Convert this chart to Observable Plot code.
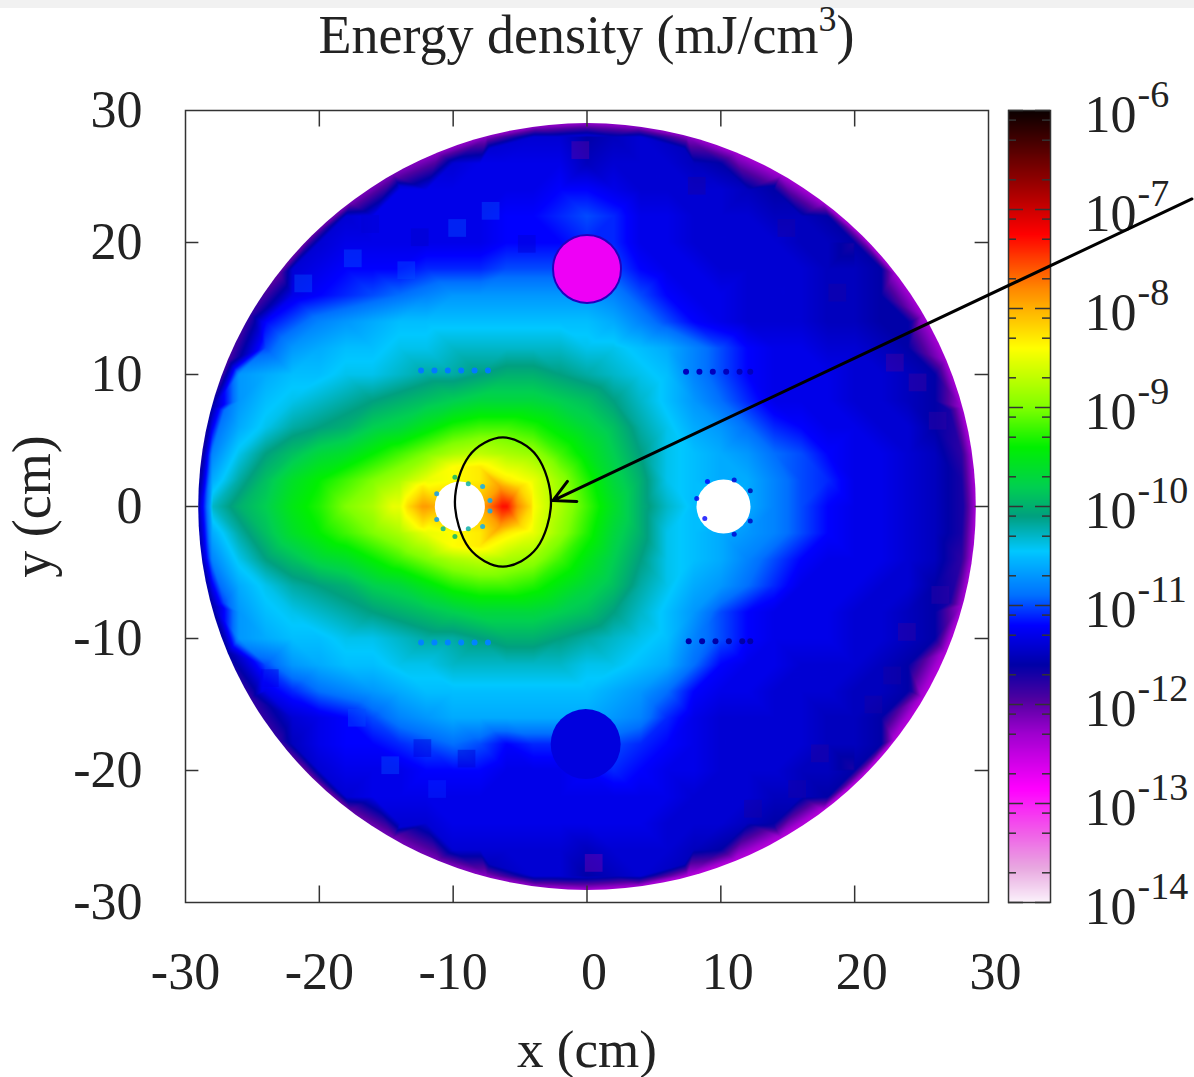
<!DOCTYPE html>
<html><head><meta charset="utf-8">
<script src="https://cdn.jsdelivr.net/npm/d3@7"></script>
<script src="https://cdn.jsdelivr.net/npm/@observablehq/plot@0.6"></script>
<style>
html,body{margin:0;padding:0;background:#fff}
#wrap{position:relative;width:1194px;height:1077px;overflow:hidden;font-family:"Liberation Serif",serif;color:#222}
#wrap svg{position:absolute;left:0;top:0;background:transparent}
#band{position:absolute;left:0;top:0;width:1194px;height:8px;background:#f1f1f1}
#title{position:absolute;left:0;width:1173px;top:5px;text-align:center;font-size:54px;line-height:60px}
#title sup{font-size:36px;line-height:0;vertical-align:baseline;position:relative;top:-22px}
</style></head><body>
<div id="wrap"><div id="band"></div><div id="title">Energy density (mJ/cm<sup>3</sup>)</div></div>
<script>
// Colour bar: exponent of energy density and the colour read at that height
const barExponents=[-14,-13.65,-13.3,-12.85,-12.3,-11.95,-11.6,-11.2,-10.9,-10.45,-10.1,-9.8,-9.4,-9,-8.4,-7.8,-7.25,-6.7,-6];
const barColors=["#fbf2fb","#e8a8e0","#f060e8","#ff00ff","#a000d0","#5000a0","#0000a8","#0000ff","#0070ff","#00c8ff","#00a080","#00d050","#00f000","#80ff00","#ffff00","#ff8800","#ff0000","#900000","#0a0000"];
const barLabels=[-6,-7,-8,-9,-10,-11,-12,-13,-14];
const xTicks=[-30,-20,-10,0,10,20,30];
const yTicks=[-30,-20,-10,0,10,20,30];

// Read values: -10*log10(energy density) on a 2 cm grid; each row is centred on x=0
const rowY=[28,26,24,22,20,18,16,14,12,10,8,6,4,2,0,-2,-4,-6,-8,-10,-12,-14,-16,-18,-20,-22,-24,-26,-28];
const rows=[
[114,114,116,115,114],
[114,113,113,113,113,115,114,114,114,115,116],
[113,113,113,113,113,113,112,112,113,114,114,114,114,115,116],
[114,113,113,113,113,113,112,112,111,110,111,113,113,114,114,114,115,115,116],
[114,113,113,113,113,113,113,112,112,112,111,111,113,113,114,114,114,114,115,115,116],
[114,113,112,112,112,111,111,111,110,110,110,110,110,112,113,113,114,114,114,114,115,115,116],
[113,112,111,110,109,108,107,107,107,107,107,107,108,110,112,113,113,114,114,114,115,115,116],
[112,110,108,107,106,105,105,105,105,105,105,105,105,106,108,110,112,113,114,114,114,115,115,116,116],
[110,107,106,105,105,104,104,103,103,103,103,103,104,104,105,106,108,110,112,113,113,114,114,115,116],
[107,106,105,105,104,104,103,102,102,101,100,100,101,102,103,104,105,108,110,112,113,113,113,114,114,115,116],
[107,105,104,103,102,101,100,99,98,97,97,97,98,99,101,103,105,107,109,111,113,113,113,114,114,115,116],
[106,104,102,101,100,98,97,95,93,92,92,93,95,97,99,102,104,106,107,109,111,112,113,113,114,114,116],
[108,104,101,99,97,96,94,92,90,88,87,88,89,92,95,98,101,104,105,106,107,109,110,112,113,113,114,115,118],
[106,102,99,96,94,92,90,88,85,84,83,83,85,89,93,97,100,104,105,106,106,108,110,111,113,113,114,115,117],
[103,100,98,95,93,90,88,85,79,80,80,73,84,88,92,96,100,103,105,105,106,108,110,112,113,113,114,115,117],
[106,102,99,96,94,92,90,88,85,84,83,83,85,89,93,97,100,104,105,106,107,108,110,112,113,113,114,115,117],
[108,104,101,99,97,96,94,92,90,88,87,88,89,92,95,98,101,104,105,106,108,110,112,113,113,113,114,115,118],
[106,104,102,101,100,98,97,95,93,92,92,93,95,97,99,102,104,106,107,109,111,113,113,113,114,114,116],
[107,105,104,103,102,101,100,99,98,97,97,97,98,99,101,103,105,107,110,112,113,113,113,114,114,115,116],
[107,106,105,105,104,104,103,102,102,101,100,100,101,102,103,104,105,108,110,112,113,113,113,114,114,115,116],
[110,107,106,105,105,104,104,103,103,103,103,103,104,104,105,106,109,112,113,113,114,114,114,115,116],
[113,111,109,108,107,106,105,105,105,105,105,105,105,106,107,109,112,113,113,114,114,114,115,115,116],
[114,113,112,110,108,107,106,106,106,106,106,106,107,108,111,113,114,114,114,114,115,115,116],
[115,113,112,112,111,110,109,110,112,111,111,110,110,111,112,113,114,114,114,114,115,115,116],
[114,113,113,113,112,112,112,113,113,113,112,111,112,113,113,114,114,114,115,115,116],
[114,113,113,113,113,113,113,113,113,113,113,113,113,114,114,114,115,115,116],
[114,114,113,113,113,113,113,113,113,113,114,114,114,115,116],
[114,114,114,114,114,115,114,114,114,115,116],
[114,114,116,115,114]
];
// Extra readings around the central hole
const coreX=[-6.3,-5.2,-4.2,-3.2,-6.5,-6.5,-5,-5,-8,-10,-8,-10,-12.3,-13.3,-11.3,-12.3,-12.3,-14.5];
const coreY=[0,0,0,0,1.5,-1.5,1.5,-1.5,3,3,-3,-3,0,0,0,1.5,-1.5,0];
const coreV=[73,78,82,86,79,79,82,82,83,84,83,84,79,82,80,83,83,85];
// Readings along the rim of the disc (outer edge, between those points, then just inside)
const rimX=[29,28,25.1,20.5,14.5,7.5,0,-7.5,-14.5,-20.5,-25.1,-28,-29,-28,-25.1,-20.5,-14.5,-7.5,0,7.5,14.5,20.5,25.1,28];
const rimY=[0,7.5,14.5,20.5,25.1,28,29,28,25.1,20.5,14.5,7.5,0,-7.5,-14.5,-20.5,-25.1,-28,-29,-28,-25.1,-20.5,-14.5,-7.5];
const rimV=[123,123,123,123,123,122,122,122,121,120,118,116,115,116,118,120,121,122,123,124,124,124,124,123];
const midX=[28.75,26.79,23,17.65,11.1,3.79,-3.79,-11.1,-17.65,-23,-26.79,-28.75,-28.75,-26.79,-23,-17.65,-11.1,-3.79,3.79,11.1,17.65,23,26.79,28.75];
const midY=[3.79,11.1,17.65,23,26.79,28.75,28.75,26.79,23,17.65,11.1,3.79,-3.79,-11.1,-17.65,-23,-26.79,-28.75,-28.75,-26.79,-23,-17.65,-11.1,-3.79];
const midV=[123,123,123,123,123,122,122,122,121,120,119,117,115,116,118,120,121,122,123,124,124,124,124,123];
const innerX=[28.1,27.1,24.3,19.9,14.05,7.3,0,-7.3,-14.05,-19.9,-24.3,-27.1,-28.1,-27.1,-24.3,-19.9,-14.05,-7.3,0,7.3,14.05,19.9,24.3,27.1];
const innerY=[0,7.3,14.05,19.9,24.3,27.1,28.1,27.1,24.3,19.9,14.05,7.3,0,-7.3,-14.05,-19.9,-24.3,-27.1,-28.1,-27.1,-24.3,-19.9,-14.05,-7.3];
const innerV=[117,117,117,117,116,115,114,114,114,114,113,109,106,110,113,114,114,115,115,115,117,117,117,117];
// Round features
const holeX=[-9.5,10.2]; const holeY=[0,0]; 
const magentaX=[0]; const magentaY=[18]; const magentaV=[-12.75];
const blueX=[-0.1]; const blueY=[-18]; const blueV=[-11.35];
// Speckle on hole edges
const speckX=[-9.87,-8.87,-7.8,-11.23,-7.25,-7.25,-11.23,-7.8,-8.87,-9.87,-10.75,9,11,12.2,8.2,8.8,11,12.2];
const speckY=[2.22,1.72,1.52,0.96,0.45,-0.35,-0.98,-1.52,-1.69,-2.27,-1.69,1.9,2,1.2,0.6,-0.9,-2.1,-1.1];
const speckV=[-10,-10.2,-10.6,-10.7,-10.6,-10.6,-10.7,-10.6,-10.2,-10,-10.2,-11.2,-11.4,-11.6,-11.3,-11.2,-11.4,-11.5];
// Beam-line streaks
const streakX=[-12.4,-11.4,-10.4,-9.4,-8.4,-7.4,-12.4,-11.4,-10.4,-9.4,-8.4,-7.4,7.4,8.4,9.4,10.4,11.4,12.2,7.6,8.6,9.6,10.6,11.6,12.2];
const streakY=[10.3,10.3,10.3,10.3,10.3,10.3,-10.3,-10.3,-10.3,-10.3,-10.3,-10.3,10.2,10.2,10.2,10.2,10.2,10.2,-10.2,-10.2,-10.2,-10.2,-10.2,-10.2];
const streakV=[-10.85,-10.85,-10.85,-10.85,-10.85,-10.85,-10.8,-10.8,-10.8,-10.8,-10.8,-10.8,-11.5,-11.5,-11.5,-11.5,-11.5,-11.5,-11.6,-11.6,-11.6,-11.6,-11.6,-11.6];
// Coarse mesh blocks visible in the outer region
const blockX=[23,24.7,18.7,14.9,8.2,26.2,26.4,23.9,22.8,21.4,17.4,15.7,12.4,-0.5,0.5,-17.5,-21.2,-9.7,-7.2,-13.5,-12.5,-4.5,-16.2,-17.2,-23.7,-14.7,-11.2,-9,-12.3];
const blockY=[10.9,9.4,16.2,21.1,24.3,6.5,-6.7,-9.5,-12.8,-15,-18.7,-21.4,-22.9,27,-27,18.8,16.9,21.1,22.4,17.9,20.4,19.9,21.4,-16,-13,-19.6,-21.4,-19.1,-18.3];
const blockV=[-11.9,-11.85,-11.7,-11.7,-11.7,-11.8,-11.8,-11.8,-11.7,-11.7,-11.75,-11.7,-11.7,-12,-12.1,-11,-11,-11,-11,-11,-11.45,-11.4,-11.4,-11,-11.3,-11,-11.1,-11.4,-11.35];
// Annotation
const ringX=[-2.69,-3.73,-6.28,-8.83,-9.87,-8.83,-6.28,-3.73];
const ringY=[0.34,3.8,5.23,3.8,0.34,-3.12,-4.55,-3.12];
const arrowFrom=[45.2,23.3]; const arrowTo=[-2.55,0.45];

const points=[];
rows.forEach((r,j)=>{const L=r.length-1;r.forEach((v,i)=>points.push({x:-L+2*i,y:rowY[j],e:-v/10}));});
coreX.forEach((x,i)=>points.push({x,y:coreY[i],e:-coreV[i]/10}));
rimX.forEach((x,i)=>points.push({x,y:rimY[i],e:-rimV[i]/10}));
midX.forEach((x,i)=>points.push({x,y:midY[i],e:-midV[i]/10}));
innerX.forEach((x,i)=>points.push({x,y:innerY[i],e:-innerV[i]/10}));
const zip=(xs,ys,vs)=>xs.map((x,i)=>({x,y:ys[i],e:vs?vs[i]:0}));

const colorScale={type:"linear",domain:barExponents,range:barColors,clamp:true};
const font={fontFamily:"Liberation Serif, serif",fontSize:52,color:"#222",background:"transparent",overflow:"visible"};
const clipDisk=(index,scales,values,dims,ctx,next)=>{
  const g=next(index,scales,values,dims,ctx);
  const ns="http://www.w3.org/2000/svg";
  const cp=document.createElementNS(ns,"clipPath");cp.setAttribute("id","disk");
  const el=document.createElementNS(ns,"ellipse");
  const cx=scales.x(0),cy=scales.y(0);
  el.setAttribute("cx",cx);el.setAttribute("cy",cy);
  el.setAttribute("rx",scales.x(29.05)-cx);el.setAttribute("ry",cy-scales.y(29.05));
  cp.appendChild(el);g.appendChild(cp);g.setAttribute("clip-path","url(#disk)");
  return g;
};

// Colour bar plot (below the main one so the arrow passes over it)
const minorOffsets=[0.097,0.3,0.7];
const bar=Plot.plot({
  width:1194,height:1077,marginLeft:1008,marginRight:144,marginTop:110,marginBottom:175,
  style:font,
  x:{domain:[0,1],axis:null},
  y:{domain:[-14,-6],axis:null},
  color:colorScale,
  marks:[
    Plot.raster({x1:0,x2:1,y1:-14,y2:-6,width:1,height:800,fill:(x,y)=>y,imageRendering:"auto"}),
    Plot.tickY(barLabels,{y:d=>d,insetRight:27,stroke:"#333",strokeWidth:1.5}),
    Plot.tickY(barLabels,{y:d=>d,insetLeft:27,stroke:"#333",strokeWidth:1.5}),
    ...minorOffsets.flatMap(o=>[
      Plot.tickY(barLabels.slice(0,-1),{y:d=>d-o,insetRight:34,stroke:"#333",strokeWidth:1.5}),
      Plot.tickY(barLabels.slice(0,-1),{y:d=>d-o,insetLeft:34,stroke:"#333",strokeWidth:1.5})
    ]),
    Plot.frame({stroke:"#333",strokeWidth:1.5}),
    Plot.text(barLabels,{x:1,y:d=>d,text:()=>"10",textAnchor:"start",dx:34,dy:5,fontSize:52,fill:"#222"}),
    Plot.text(barLabels,{x:1,y:d=>d,text:d=>String(d),textAnchor:"start",dx:87,dy:-16,fontSize:38,fill:"#222"})
  ]
});
document.getElementById("wrap").appendChild(bar);

const main=Plot.plot({
  width:1194,height:1077,marginLeft:185,marginRight:206,marginTop:110,marginBottom:175,
  style:font,
  x:{domain:[-30,30]},
  y:{domain:[-30,30]},
  color:colorScale,
  marks:[
    Plot.raster(points,{x:"x",y:"y",fill:"e",interpolate:"barycentric",render:clipDisk}),
    Plot.dot(zip(blockX,blockY,blockV),{x:"x",y:"y",fill:"e",symbol:"square",r:10,fillOpacity:0.45}),
    Plot.dot(zip(streakX,streakY,streakV),{x:"x",y:"y",fill:"e",r:3}),
    Plot.dot(zip(magentaX,magentaY,magentaV),{x:"x",y:"y",fill:"e",r:34,stroke:"#2000c0",strokeWidth:2}),
    Plot.dot(zip(blueX,blueY,blueV),{x:"x",y:"y",fill:"e",r:35}),
    Plot.dot(zip(holeX.slice(0,1),holeY.slice(0,1)),{x:"x",y:"y",r:25,fill:"white"}),
    Plot.dot(zip(holeX.slice(1),holeY.slice(1)),{x:"x",y:"y",r:27,fill:"white"}),
    Plot.dot(zip(speckX,speckY,speckV),{x:"x",y:"y",fill:"e",r:2.5,fillOpacity:0.8}),
    Plot.ruleX(xTicks.slice(1,-1),{x:d=>d,y1:-30,y2:-28.75,stroke:"#333",strokeWidth:1.5}),
    Plot.ruleX(xTicks.slice(1,-1),{x:d=>d,y1:30,y2:28.75,stroke:"#333",strokeWidth:1.5}),
    Plot.ruleY(yTicks.slice(1,-1),{y:d=>d,x1:-30,x2:-29,stroke:"#333",strokeWidth:1.5}),
    Plot.ruleY(yTicks.slice(1,-1),{y:d=>d,x1:30,x2:29,stroke:"#333",strokeWidth:1.5}),
    Plot.frame({stroke:"#333",strokeWidth:1.5}),
    Plot.axisX(xTicks.filter(d=>d<0),{anchor:"bottom",tickSize:0,tickPadding:50,tickFormat:String,label:null,fontSize:52,fill:"#222"}),
    Plot.axisX(xTicks.filter(d=>d>=0),{anchor:"bottom",tickSize:0,tickPadding:50,tickFormat:String,label:null,fontSize:52,dx:7,fill:"#222"}),
    Plot.axisY(yTicks,{anchor:"left",tickSize:0,tickPadding:43,tickFormat:String,label:null,fontSize:52,fill:"#222"}),
    Plot.text(["x (cm)"],{x:0,y:-30,text:d=>d,dy:148,fontSize:53,fill:"#222"}),
    Plot.text(["y (cm)"],{x:-30,y:0,text:d=>d,dx:-153,rotate:-90,fontSize:54,fill:"#222"}),
    Plot.line(zip(ringX,ringY),{x:"x",y:"y",curve:"cardinal-closed",stroke:"black",strokeWidth:2.3}),
    Plot.arrow([0],{x1:()=>arrowFrom[0],y1:()=>arrowFrom[1],x2:()=>arrowTo[0],y2:()=>arrowTo[1],stroke:"black",strokeWidth:3,headLength:12,headAngle:55})
  ]
});
document.getElementById("wrap").appendChild(main);
</script>
</body></html>
